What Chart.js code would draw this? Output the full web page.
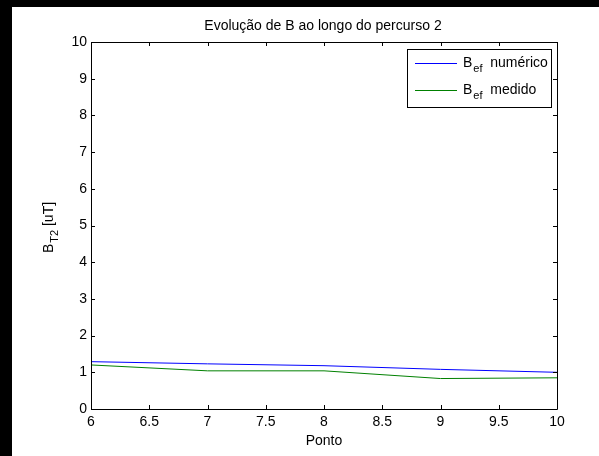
<!DOCTYPE html>
<html>
    <head>
        <title>Evolução de B ao longo do percurso 2</title>
        <meta charset="UTF-8">
        <script src="https://cdn.jsdelivr.net/npm/chart.js@4.4.0/dist/chart.umd.min.js"></script>
        <style>
            html, body {margin: 0; padding: 0; background: #000; width: 599px; height: 456px; overflow: hidden;}
            #myChart {position: absolute; left: 12px; top: 7px; background: #fff;}
        </style>
    </head>
    <body>
        <canvas id="myChart" width="587" height="449"></canvas>
        <script>
            // data
            var pontos = [6, 7, 8, 9, 10];
            var bNumerico = [1.29, 1.23, 1.18, 1.08, 1.00];
            var bMedido = [1.20, 1.04, 1.04, 0.83, 0.85];

            var titulo = 'Evolução de B ao longo do percurso 2';
            var xTitulo = 'Ponto';
            // [text, isSubscript]
            var yTitulo = [['B', false], ['T2', true], [' [uT]', false]];
            var legendas = [
                [['B', false], ['ef', true], ['  numérico', false]],
                [['B', false], ['ef', true], ['  medido', false]]
            ];
            var cores = ['#0000ff', '#008000'];

            var FONT = '"Liberation Sans", Arial, sans-serif';

            function toPoints(xs, ys) {
                return xs.map(function (x, i) { return {x: x, y: ys[i]}; });
            }

            // draw a text with subscript parts, starting at x on baseline y
            function drawParts(ctx, parts, x, y) {
                ctx.textAlign = 'left';
                ctx.textBaseline = 'alphabetic';
                parts.forEach(function (p) {
                    ctx.font = (p[1] ? '11px ' : '14px ') + FONT;
                    ctx.fillText(p[0], x + (p[1] ? 1 : 0), y + (p[1] ? 5 : 0));
                    x += ctx.measureText(p[0]).width + (p[1] ? 1 : 0);
                });
                return x;
            }
            function partsWidth(ctx, parts) {
                var w = 0;
                parts.forEach(function (p) {
                    ctx.font = (p[1] ? '11px ' : '14px ') + FONT;
                    w += ctx.measureText(p[0]).width + (p[1] ? 1 : 0);
                });
                return w;
            }

            // matlab style box, inward ticks, titles and legend
            var matlabPlugin = {
                id: 'matlab',
                afterDraw: function (chart) {
                    var ctx = chart.ctx;
                    var a = chart.chartArea;
                    var xs = chart.scales.x, ys = chart.scales.y;
                    ctx.save();
                    ctx.strokeStyle = '#000';
                    ctx.lineWidth = 1;
                    ctx.beginPath();
                    ctx.rect(Math.round(a.left) + 0.5, Math.round(a.top) + 0.5,
                        Math.round(a.right - a.left), Math.round(a.bottom - a.top));
                    ctx.stroke();

                    var tl = 4;
                    ctx.beginPath();
                    xs.ticks.forEach(function (t) {
                        var px = Math.round(xs.getPixelForValue(t.value)) + 0.5;
                        ctx.moveTo(px, a.bottom); ctx.lineTo(px, a.bottom - tl);
                        ctx.moveTo(px, a.top); ctx.lineTo(px, a.top + tl);
                    });
                    ys.ticks.forEach(function (t) {
                        var py = Math.round(ys.getPixelForValue(t.value)) + 0.5;
                        ctx.moveTo(a.left, py); ctx.lineTo(a.left + tl, py);
                        ctx.moveTo(a.right, py); ctx.lineTo(a.right - tl, py);
                    });
                    ctx.stroke();

                    // title
                    ctx.fillStyle = '#000';
                    ctx.font = '14px ' + FONT;
                    ctx.textAlign = 'center';
                    ctx.textBaseline = 'alphabetic';
                    ctx.fillText(titulo, (a.left + a.right) / 2 - 1, 23);
                    ctx.fillText(xTitulo, (a.left + a.right) / 2, 438);

                    // y title, rotated
                    ctx.save();
                    ctx.translate(41, (a.top + a.bottom) / 2 + 2);
                    ctx.rotate(-Math.PI / 2);
                    drawParts(ctx, yTitulo, -partsWidth(ctx, yTitulo) / 2, 0);
                    ctx.restore();

                    // legend
                    var lx = 395.5, ly = 42.5, lw = 144, lh = 58;
                    ctx.fillStyle = '#fff';
                    ctx.fillRect(lx, ly, lw, lh);
                    ctx.strokeStyle = '#000';
                    ctx.strokeRect(lx, ly, lw, lh);
                    legendas.forEach(function (leg, i) {
                        var yy = 56 + i * 27;
                        ctx.strokeStyle = cores[i];
                        ctx.beginPath();
                        ctx.moveTo(403, yy + 0.5); ctx.lineTo(445, yy + 0.5);
                        ctx.stroke();
                        ctx.fillStyle = '#000';
                        drawParts(ctx, leg, 451, yy + 4);
                    });
                    ctx.restore();
                }
            };

            var config = {
                type: 'line',
                data: {
                    datasets: [
                        {
                            label: 'Bef numérico',
                            data: toPoints(pontos, bNumerico),
                            borderColor: cores[0],
                            borderWidth: 1,
                            pointRadius: 0,
                            tension: 0
                        },
                        {
                            label: 'Bef medido',
                            data: toPoints(pontos, bMedido),
                            borderColor: cores[1],
                            borderWidth: 1,
                            pointRadius: 0,
                            tension: 0
                        }
                    ]
                },
                options: {
                    responsive: false,
                    animation: false,
                    layout: {padding: {top: 35, right: 42, left: 0, bottom: 0}},
                    plugins: {
                        legend: {display: false},
                        title: {display: false},
                        tooltip: {enabled: false}
                    },
                    scales: {
                        x: {
                            type: 'linear',
                            min: 6,
                            max: 10,
                            grid: {display: false, drawTicks: false},
                            border: {display: false},
                            ticks: {stepSize: 0.5, color: '#000', padding: 5, maxRotation: 0,
                                font: {family: FONT, size: 14},
                                callback: function (v) { return String(v); }},
                            afterFit: function (s) { s.height = 47; }
                        },
                        y: {
                            min: 0,
                            max: 10,
                            grid: {display: false, drawTicks: false},
                            border: {display: false},
                            ticks: {stepSize: 1, color: '#000', padding: 4,
                                font: {family: FONT, size: 14},
                                callback: function (v) { return String(v); }},
                            afterFit: function (s) { s.width = 79; }
                        }
                    }
                },
                plugins: [matlabPlugin]
            };

            var myChart = new Chart(document.getElementById('myChart'), config);
        </script>
    </body>
</html>
